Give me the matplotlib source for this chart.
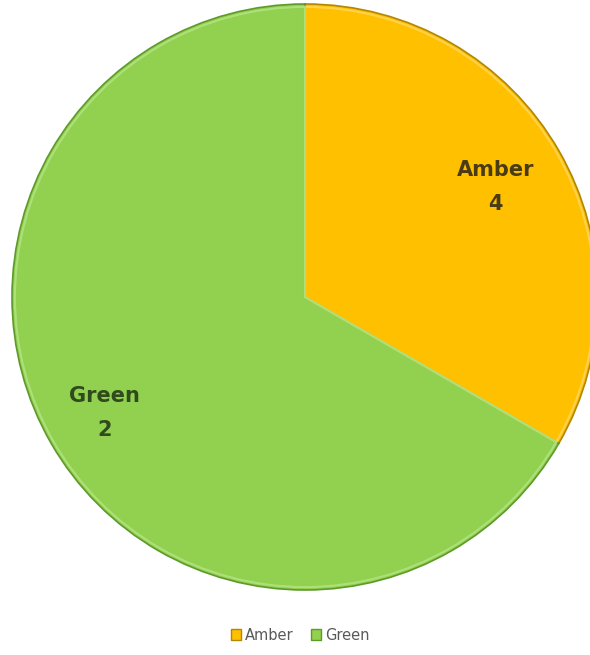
import matplotlib.pyplot as plt
import numpy as np

categories = ["Amber", "Green"]
label_values = [4, 2]        # numbers printed on the slices
slice_sizes = [2, 4]         # share of the circle each slice takes in the picture
colors = ["#FFC000", "#92D050"]
edge_colors = ["#B38600", "#5E9A2A"]
light_colors = ["#FFD24D", "#AEE07A"]
text_colors = ["#4A3B12", "#2F4A1C"]

fig = plt.figure(figsize=(5.9, 6.55), dpi=100)
ax = fig.add_axes([12 / 590, 65 / 655, 586 / 590, 586 / 655])

wedges, _ = ax.pie(slice_sizes, colors=colors, startangle=90, counterclock=False,
                   radius=1.0, wedgeprops=dict(linewidth=1.2))
for w, ec in zip(wedges, edge_colors):
    w.set_edgecolor(ec)
    w.set_clip_on(False)

# thin lighter rim just inside each slice, a hint of the bevel
inner, _ = ax.pie(slice_sizes, colors=["none", "none"], startangle=90, counterclock=False,
                  radius=0.99, wedgeprops=dict(linewidth=1.5))
for w, lc in zip(inner, light_colors):
    w.set_edgecolor(lc)
    w.set_clip_on(False)

# label placement, distance from centre per slice
label_r = [0.75, 0.79]
for w, cat, val, tc, r in zip(wedges, categories, label_values, text_colors, label_r):
    ang = np.deg2rad((w.theta1 + w.theta2) / 2)
    ax.text(r * np.cos(ang), r * np.sin(ang), f"{cat}\n{val}", ha="center", va="center",
            fontsize=15, fontweight="bold", color=tc, linespacing=1.9)

ax.set_xlim(-1, 1)
ax.set_ylim(-1, 1)
ax.set_aspect("equal")
ax.axis("off")

handles = [plt.Rectangle((0, 0), 1, 1, facecolor=c, edgecolor=e) for c, e in zip(colors, edge_colors)]
fig.legend(handles, categories, loc="center", bbox_to_anchor=(300 / 590, 1 - 635 / 655),
           ncol=2, frameon=False, fontsize=10.5, handlelength=0.7, handleheight=0.7,
           handletextpad=0.25, columnspacing=1.2, labelcolor="#595959")

fig.savefig("out.png", dpi=100)
